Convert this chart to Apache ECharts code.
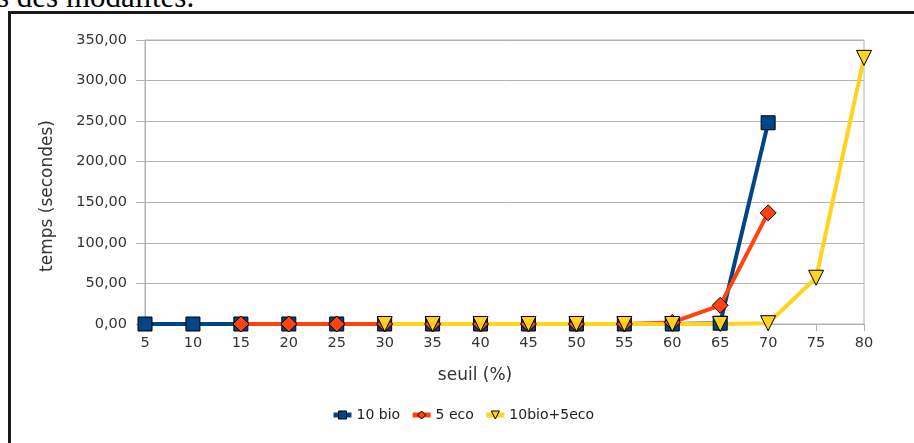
<!DOCTYPE html>
<html>
<head>
<meta charset="utf-8">
<script src="https://cdn.jsdelivr.net/npm/echarts@6/dist/echarts.min.js"></script>
<style>
  html, body { margin: 0; padding: 0; background: #ffffff; overflow: hidden; }
  #wrap { position: relative; width: 914px; height: 443px; overflow: hidden; background: #fff; }
  #caption {
    position: absolute; left: -3px; top: -18px; width: 400px;
    font-family: "Liberation Serif", "DejaVu Serif", serif; font-size: 31px; line-height: 30px;
    color: #000; white-space: nowrap;
  }
  #frame {
    position: absolute; left: 8px; top: 11px; width: 920px; height: 460px;
    border-left: 3px solid #1a1a1a; border-top: 3px solid #1a1a1a;
  }
  #chart { position: absolute; left: 0; top: 0; width: 914px; height: 443px; }
</style>
</head>
<body>
<div id="wrap">
  <div id="caption">s des modalités.</div>
  <div id="frame"></div>
  <div id="chart"></div>
</div>
<script>
// Threshold values (seuil, %) on the horizontal axis
const seuils = ['5', '10', '15', '20', '25', '30', '35', '40', '45', '50', '55', '60', '65', '70', '75', '80'];

// Computation time in seconds for each configuration (null = not measured)
const bio10 = [0, 0, 0, 0, 0, 0, 0, 0, 0, 0, 0, 0, 1, 248, null, null];
const eco5 = [null, null, 0, 0, 0, 0, 0, 0, 0, 0, 0, 2, 23, 137, null, null];
const bio10eco5 = [null, null, null, null, null, 0, 0, 0, 0, 0, 0, 0, 0, 1, 57, 328];

const seriesNames = ['10 bio', '5 eco', '10bio+5eco'];
const yTicks = { min: 0, max: 350, step: 50 };

const FONT = 'DejaVu Sans';
const chart = echarts.init(document.getElementById('chart'), null, { renderer: 'canvas' });

function lineSeries(name, data, color, symbol, size, rotate) {
  return {
    name: name,
    type: 'line',
    data: data,
    connectNulls: false,
    symbol: symbol,
    symbolSize: size,
    symbolRotate: rotate || 0,
    lineStyle: { color: color, width: 4 },
    itemStyle: { color: color, borderColor: '#000', borderWidth: 1 },
    emphasis: { disabled: true },
    animation: false
  };
}

chart.setOption({
  animation: false,
  grid: {
    left: 145, right: 50, top: 40, bottom: 119,
    show: true, borderColor: '#b3b3b3', borderWidth: 1, backgroundColor: 'transparent'
  },
  xAxis: {
    type: 'category',
    data: seuils,
    boundaryGap: false,
    axisLine: { show: true, lineStyle: { color: '#b3b3b3', width: 1 } },
    axisTick: { show: true, alignWithLabel: true, length: 7, lineStyle: { color: '#b3b3b3' } },
    axisLabel: { color: '#333', fontFamily: FONT, fontSize: 14.5, margin: 12 },
    splitLine: { show: false }
  },
  yAxis: {
    type: 'value',
    min: yTicks.min, max: yTicks.max, interval: yTicks.step,
    axisLine: { show: true, lineStyle: { color: '#b3b3b3', width: 1 } },
    axisTick: { show: true, length: 9, lineStyle: { color: '#b3b3b3' } },
    axisLabel: {
      color: '#333', fontFamily: FONT, fontSize: 14.5, margin: 18,
      formatter: v => v.toFixed(2).replace('.', ',')
    },
    splitLine: { show: true, lineStyle: { color: '#b3b3b3', width: 1 } }
  },
  legend: {
    left: 326, top: 403,
    itemWidth: 18, itemHeight: 10, itemGap: 10,
    lineStyle: { width: 5 },
    itemStyle: { borderWidth: 1, borderColor: '#000' },
    textStyle: { color: '#222', fontFamily: FONT, fontSize: 14 },
    data: seriesNames
  },
  graphic: [
    {
      type: 'text',
      x: 48, y: 196, rotation: Math.PI / 2,
      style: { text: 'temps (secondes)', font: '17px "DejaVu Sans"', fill: '#333', align: 'center', verticalAlign: 'middle' }
    },
    {
      type: 'text',
      x: 475, y: 376,
      style: { text: 'seuil (%)', font: '17px "DejaVu Sans"', fill: '#333', align: 'center', verticalAlign: 'middle' }
    }
  ],
  series: [
    lineSeries(seriesNames[0], bio10, '#004586', 'rect', 14),
    lineSeries(seriesNames[1], eco5, '#ff420e', 'diamond', 16),
    lineSeries(seriesNames[2], bio10eco5, '#ffd320', 'triangle', 15, 180)
  ]
});
</script>
</body>
</html>
